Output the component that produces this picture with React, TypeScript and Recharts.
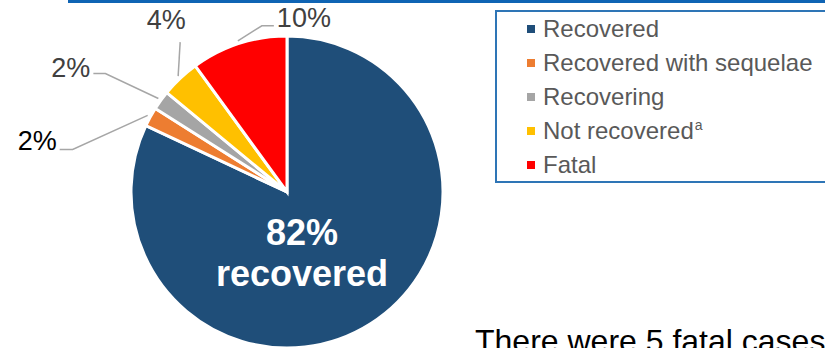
import { PieChart, Pie, Cell, Legend } from 'recharts';

const categories = ['Recovered', 'Recovered with sequelae', 'Recovering', 'Not recovered', 'Fatal'];
const cases = [41, 1, 1, 2, 5];
const percentLabels = ['82%', '2%', '2%', '4%', '10%'];
const footnotes = ['', '', '', 'a', ''];
const centerLines = ['82%', 'recovered'];
const footerText = 'There were 5 fatal cases';

const COLORS = ['#1f4e79', '#ed7d31', '#a5a5a5', '#ffc000', '#ff0000'];
const FONT = '"Liberation Sans", Arial, sans-serif';
const RAD = Math.PI / 180;

// leader line layout per slice: offsets from the point just outside the slice
const LEADERS: Record<number, { pts: [number, number][]; tx: number; ty: number; anchor: string; color: string }> = {
  1: { pts: [[-75, 34], [-88, 34]], tx: -91, ty: 35, anchor: 'end', color: '#000' },
  2: { pts: [[-53, -25], [-65, -25]], tx: -68, ty: -22, anchor: 'end', color: '#404040' },
  3: { pts: [[2, -34]], tx: -12, ty: -47, anchor: 'middle', color: '#404040' },
  4: { pts: [[24, -15], [36, -15]], tx: 39, ty: -14, anchor: 'start', color: '#404040' },
};

const data = categories.map((name, i) => ({ name, value: cases[i], label: percentLabels[i] }));

function renderLabel(props: any) {
  const { cx, cy, midAngle, outerRadius, index } = props;
  if (index === 0) {
    return (
      <text x={cx + 15} fill="#fff" fontFamily={FONT} fontWeight="bold" fontSize={36} textAnchor="middle">
        <tspan x={cx + 15} y={cy + 53}>{centerLines[0]}</tspan>
        <tspan x={cx + 15} y={cy + 94}>{centerLines[1]}</tspan>
      </text>
    );
  }
  const cfg = LEADERS[index];
  const r = outerRadius + 3;
  const sx = cx + r * Math.cos(-midAngle * RAD);
  const sy = cy + r * Math.sin(-midAngle * RAD);
  const pts = [[sx, sy], ...cfg.pts.map(([dx, dy]) => [sx + dx, sy + dy])];
  return (
    <g>
      <polyline points={pts.map((p) => p.join(',')).join(' ')} fill="none" stroke="#a6a6a6" strokeWidth={1.5} />
      <text x={sx + cfg.tx} y={sy + cfg.ty} fill={cfg.color} fontFamily={FONT} fontSize={27} textAnchor={cfg.anchor as any}>
        {data[index].label}
      </text>
    </g>
  );
}

function LegendBox() {
  return (
    <div
      style={{
        boxSizing: 'border-box',
        width: '100%',
        height: '100%',
        border: '2px solid #2e75b6',
        paddingLeft: 30,
        fontFamily: FONT,
        fontSize: 24,
        color: '#595959',
      }}
    >
      {categories.map((name, i) => (
        <div key={name} style={{ height: 34, display: 'flex', alignItems: 'center' }}>
          <span style={{ width: 8, height: 8, background: COLORS[i], marginRight: 8, flexShrink: 0 }} />
          <span>
            {name}
            {footnotes[i] && <sup style={{ fontSize: 14, marginLeft: 1 }}>{footnotes[i]}</sup>}
          </span>
        </div>
      ))}
    </div>
  );
}

export default function App() {
  return (
    <div style={{ position: 'absolute', left: 0, top: 0, width: 825, height: 348, overflow: 'hidden', background: '#fff' }}>
      <div style={{ position: 'absolute', left: 68, top: 0, width: 757, height: 3, background: '#0f64b4' }} />
      <PieChart width={825} height={348} margin={{ top: 0, right: 0, bottom: 0, left: 0 }}>
        <Pie
          data={data}
          dataKey="value"
          nameKey="name"
          cx={287}
          cy={192}
          outerRadius={156}
          startAngle={90}
          endAngle={-270}
          stroke="#fff"
          strokeWidth={3}
          label={renderLabel}
          labelLine={false}
          isAnimationActive={false}
        >
          {data.map((d, i) => (
            <Cell key={d.name} fill={COLORS[i]} />
          ))}
        </Pie>
        <Legend
          layout="vertical"
          content={<LegendBox />}
          wrapperStyle={{ position: 'absolute', left: 495, top: 10, width: 345, height: 173 }}
        />
      </PieChart>
      <div
        style={{
          position: 'absolute',
          left: 475,
          top: 325,
          fontFamily: FONT,
          fontSize: 32,
          lineHeight: '32px',
          color: '#000',
          whiteSpace: 'nowrap',
        }}
      >
        {footerText}
      </div>
    </div>
  );
}
